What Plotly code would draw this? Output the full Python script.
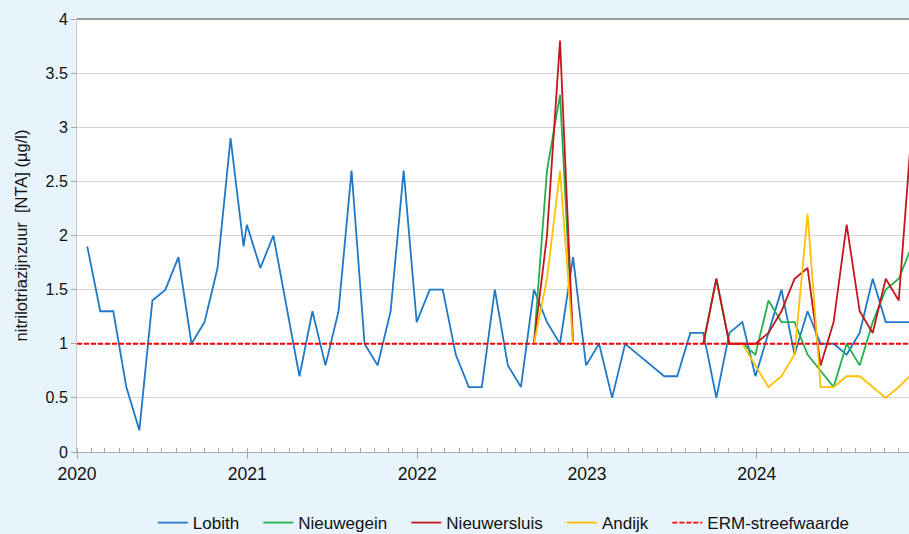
import plotly.graph_objects as go

# ---------------- data ----------------
lobith_dates = [
    "2020-01-23", "2020-02-20", "2020-03-19", "2020-04-16", "2020-05-14", "2020-06-11",
    "2020-07-09", "2020-08-06", "2020-09-03", "2020-10-01", "2020-10-29", "2020-11-26",
    "2020-12-24", "2020-12-31",
    "2021-01-29", "2021-02-26", "2021-04-23", "2021-05-21", "2021-06-18", "2021-07-16",
    "2021-08-13", "2021-09-10", "2021-10-08", "2021-11-05", "2021-12-03", "2021-12-31",
    "2022-01-28", "2022-02-25", "2022-03-25", "2022-04-22", "2022-05-20", "2022-06-17",
    "2022-07-15", "2022-08-12", "2022-09-09", "2022-10-07", "2022-11-04", "2022-12-02",
    "2022-12-30",
    "2023-01-27", "2023-02-24", "2023-03-24", "2023-04-21", "2023-05-19", "2023-06-16",
    "2023-07-14", "2023-08-11", "2023-09-08", "2023-10-06", "2023-11-03", "2023-12-01",
    "2023-12-29",
    "2024-01-26", "2024-02-23", "2024-03-22", "2024-04-19", "2024-05-17", "2024-06-14",
    "2024-07-12", "2024-08-09", "2024-09-06", "2024-10-04", "2024-11-01", "2024-11-29",
]
lobith_values = [
    1.9, 1.3, 1.3, 0.6, 0.2, 1.4, 1.5, 1.8, 1.0, 1.2, 1.7, 2.9, 1.9, 2.1,
    1.7, 2.0, 0.7, 1.3, 0.8, 1.3, 2.6, 1.0, 0.8, 1.3, 2.6, 1.2,
    1.5, 1.5, 0.9, 0.6, 0.6, 1.5, 0.8, 0.6, 1.5, 1.2, 1.0, 1.8, 0.8,
    1.0, 0.5, 1.0, 0.9, 0.8, 0.7, 0.7, 1.1, 1.1, 0.5, 1.1, 1.2, 0.7,
    1.1, 1.5, 0.9, 1.3, 1.0, 1.0, 0.9, 1.1, 1.6, 1.2, 1.2, 1.2,
]

# other stations: two campaigns separated by a gap (None)
station_dates = [
    "2022-09-09", "2022-10-07", "2022-11-04", "2022-12-02", "2023-01-27",
    "2023-09-08", "2023-10-06", "2023-11-03", "2023-12-01", "2023-12-29",
    "2024-01-26", "2024-02-23", "2024-03-22", "2024-04-19", "2024-05-17", "2024-06-14",
    "2024-07-12", "2024-08-09", "2024-09-06", "2024-10-04", "2024-11-01", "2024-11-29",
]
nieuwegein_values = [
    1.0, 2.6, 3.3, 1.0, None,
    1.0, 1.6, 1.0, 1.0, 0.9,
    1.4, 1.2, 1.2, 0.9, 0.75, 0.6, 1.0, 0.8, 1.2, 1.5, 1.6, 1.9,
]
nieuwersluis_values = [
    1.0, 2.0, 3.8, 1.0, None,
    1.0, 1.6, 1.0, 1.0, 1.0,
    1.1, 1.3, 1.6, 1.7, 0.8, 1.2, 2.1, 1.3, 1.1, 1.6, 1.4, 3.0,
]
andijk_values = [
    1.0, 1.6, 2.6, 1.0, None,
    None, None, None, 1.0, 0.8,
    0.6, 0.7, 0.9, 2.2, 0.6, 0.6, 0.7, 0.7, 0.6, 0.5, 0.6, 0.72,
]

erm_dates = ["2020-01-01", "2025-01-01"]
erm_values = [1.0, 1.0]

y_ticks = [0, 0.5, 1, 1.5, 2, 2.5, 3, 3.5, 4]
y_tick_labels = ["0", "0.5", "1", "1.5", "2", "2.5", "3", "3.5", "4"]

# ---------------- figure ----------------
FONT = "Arial, 'Liberation Sans', sans-serif"
PAD = "\u00a0\u00a0\u00a0"  # extra spacing between legend entries
fig = go.Figure()

fig.add_trace(go.Scatter(x=lobith_dates, y=lobith_values, name="Lobith" + PAD, mode="lines",
                         line=dict(color="#1f78c8", width=1.8)))
fig.add_trace(go.Scatter(x=station_dates, y=nieuwegein_values, name="Nieuwegein" + PAD, mode="lines",
                         line=dict(color="#22b14c", width=1.8), connectgaps=False))
fig.add_trace(go.Scatter(x=station_dates, y=nieuwersluis_values, name="Nieuwersluis" + PAD, mode="lines",
                         line=dict(color="#c4161c", width=1.8), connectgaps=False))
fig.add_trace(go.Scatter(x=station_dates, y=andijk_values, name="Andijk" + PAD, mode="lines",
                         line=dict(color="#ffc000", width=1.8), connectgaps=False))
fig.add_trace(go.Scatter(x=erm_dates, y=erm_values, name="ERM-streefwaarde", mode="lines",
                         line=dict(color="#ff0000", width=1.8, dash="5px,2px")))

fig.update_layout(
    width=909, height=534,
    margin=dict(l=77, r=0, t=19, b=82, autoexpand=False),
    paper_bgcolor="#e8f4fc",
    plot_bgcolor="#ffffff",
    font=dict(family=FONT, size=16, color="#111111"),
    showlegend=True,
    legend=dict(orientation="h", x=0.513, xanchor="center",
                y=-0.164, yanchor="middle",
                font=dict(size=17), bgcolor="rgba(0,0,0,0)",
                itemwidth=30, tracegroupgap=0, traceorder="normal"),
    xaxis=dict(
        type="date",
        range=["2020-01-01", "2024-11-23"],
        tick0="2020-01-01", dtick="M12", tickformat="%Y",
        ticks="outside", ticklen=6, tickcolor="#a6a6a6", tickwidth=1,
        showline=True, linecolor="#a6a6a6", linewidth=1,
        showgrid=False, zeroline=False,
        tickfont=dict(size=17.5),
        minor=dict(dtick="M1", ticks="inside", ticklen=4, tickcolor="#a6a6a6", showgrid=False),
    ),
    yaxis=dict(
        range=[0, 4],
        tickvals=y_ticks, ticktext=y_tick_labels,
        ticks="outside", ticklen=5, tickcolor="#a6a6a6",
        showline=True, linecolor="#c8c8c8", linewidth=1,
        showgrid=True, gridcolor="#d4d4d4", gridwidth=1.3,
        zeroline=False,
        tickfont=dict(size=16),
        title=dict(text="nitrilotriazijnzuur  [NTA] (µg/l)", font=dict(size=16.5), standoff=13),
    ),
)

# darker top border of the plot area
fig.add_shape(type="line", xref="paper", yref="paper", x0=0, x1=1, y0=1, y1=1,
              line=dict(color="#7f7f7f", width=1.5), layer="above")

fig.write_html("out.html",
               config={"displayModeBar": False},
               post_script="document.body.style.margin='0';document.body.style.overflow='hidden';")
